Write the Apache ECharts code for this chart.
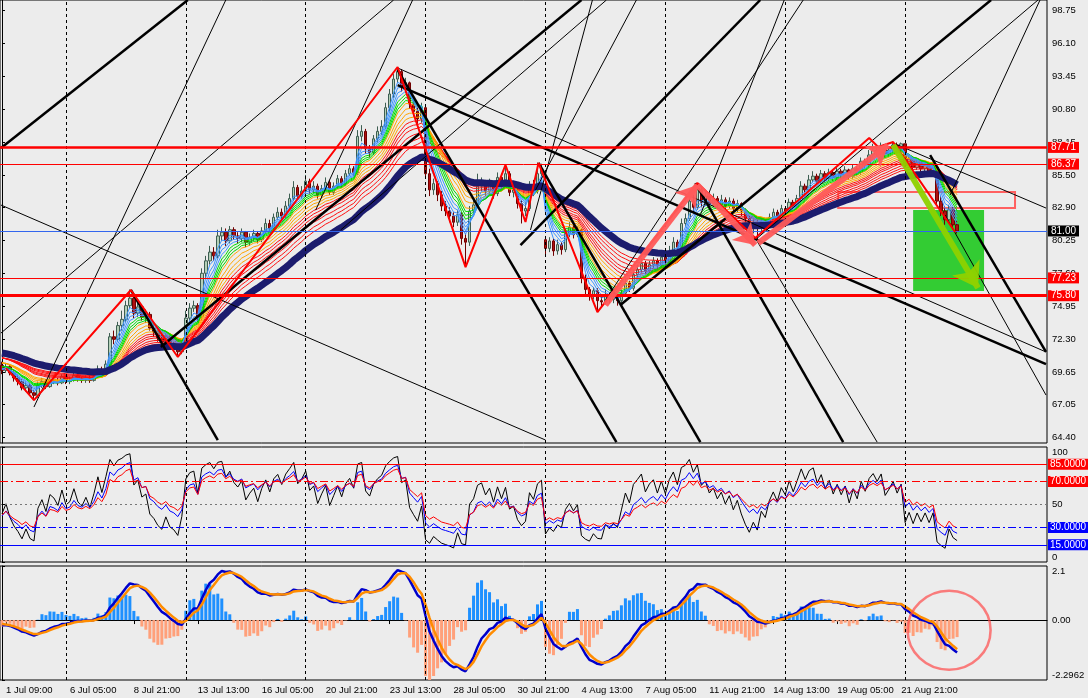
<!DOCTYPE html>
<html><head><meta charset="utf-8">
<script src="https://cdn.jsdelivr.net/npm/echarts@6/dist/echarts.min.js"></script>
<style>html,body{margin:0;padding:0;background:#ececec}#c{width:1088px;height:698px}</style>
</head><body><div id="c"></div>
<script>
// ---------------- data ----------------
const timeLabels = ['1 Jul 09:00','6 Jul 05:00','8 Jul 21:00','13 Jul 13:00','16 Jul 05:00','20 Jul 21:00','23 Jul 13:00','28 Jul 05:00','30 Jul 21:00','4 Aug 13:00','7 Aug 05:00','11 Aug 21:00','14 Aug 13:00','19 Aug 05:00','21 Aug 21:00'];
const firstLabelBar = 1;
const barsPerLabel = 16;
const slotCount = 262;
const priceTicks = [98.75,96.10,93.45,90.80,88.15,85.50,82.90,80.25,77.60,74.95,72.30,69.65,67.05,64.40];
const rsiTicks = [0,50,100];
const macdTicks = [-2.2962,0,2.07];
const macdTickText = ['-2.2962','0.00','2.1'];

const close = [69.8,70.1,69.6,69.2,68.9,68.4,68.6,68.0,67.8,68.6,
68.9,68.5,69.1,69.0,68.8,69.3,68.9,69.0,69.4,69.1,
69.0,69.2,69.0,69.3,69.9,69.6,70.3,72.5,72.3,73.4,
73.9,75.0,75.6,74.4,74.9,74.1,74.3,73.2,72.9,72.4,
72.1,72.5,71.9,71.7,71.3,71.8,74.0,74.8,75.0,74.1,
77.6,78.6,79.3,79.0,80.6,80.9,80.2,81.1,80.6,80.4,
80.9,80.1,80.5,80.8,80.3,81.0,81.6,81.2,82.1,82.5,
82.2,83.0,83.6,84.5,83.8,84.2,85.0,84.3,84.6,83.9,
84.4,84.9,84.1,84.6,85.2,84.8,85.6,86.0,85.7,88.6,
89.0,87.6,87.3,88.4,89.0,89.4,90.9,92.0,93.2,93.8,
92.6,92.9,91.2,90.6,90.0,90.9,85.6,84.3,84.8,83.9,
83.0,82.6,82.2,81.7,82.3,80.4,80.1,82.6,83.1,84.6,
84.9,84.2,84.8,84.0,85.3,84.6,85.6,84.1,84.3,83.2,
82.6,82.8,84.6,84.2,85.6,86.0,79.6,80.2,79.4,79.9,
79.5,80.8,81.3,80.7,81.1,77.2,76.3,75.8,76.2,75.4,
75.3,75.9,75.5,75.7,75.4,76.0,76.8,76.4,77.5,77.9,
78.4,77.8,78.3,78.6,78.2,78.9,78.5,79.4,80.1,79.7,
81.6,82.0,83.4,82.9,84.3,83.3,83.8,83.2,83.6,83.1,
83.5,83.0,83.4,82.8,83.2,82.6,82.0,81.4,81.7,81.2,
81.8,81.5,82.1,82.5,82.2,82.8,82.6,83.3,83.0,83.6,
84.6,84.3,85.1,85.4,85.0,85.6,85.2,85.7,85.3,85.8,
85.5,85.9,85.4,86.0,85.7,86.6,86.3,87.1,87.5,87.3,
87.8,87.2,87.5,87.9,87.6,88.0,86.4,86.8,86.1,86.5,
86.0,86.3,85.8,86.1,83.4,82.6,81.9,82.7,81.5,81.0];

const high = [70.5,70.4,70.3,69.8,69.4,69.1,68.9,68.8,68.2,68.9,
69.2,69.1,69.4,69.3,69.2,69.5,69.4,69.3,69.6,69.5,
69.3,69.4,69.4,69.5,70.2,70.1,70.6,72.8,73.0,73.7,
74.6,75.4,76.3,75.8,75.3,75.1,74.7,74.5,73.5,73.1,
72.7,72.8,72.7,72.1,71.9,72.1,74.6,75.2,75.4,75.2,
78.0,79.0,79.8,79.7,81.1,81.3,81.2,81.4,81.3,80.9,
81.2,81.0,80.8,81.1,81.0,81.3,82.0,81.9,82.4,82.9,
82.8,83.4,84.0,85.0,84.7,84.6,85.5,85.2,85.0,84.8,
84.7,85.3,85.1,84.9,85.5,85.4,85.9,86.3,86.2,89.1,
89.5,89.2,87.9,88.7,89.4,89.9,91.3,92.4,93.6,94.15,
94.0,93.3,93.0,91.6,90.9,91.3,91.1,86.0,85.2,85.0,
84.2,83.4,82.9,82.5,82.7,82.5,80.8,83.0,83.6,85.6,
85.3,85.1,85.2,85.0,85.7,85.6,86.3,85.8,84.7,84.5,
83.5,83.3,85.0,85.1,86.5,86.4,80.6,80.5,80.4,80.3,
80.1,81.2,81.7,81.5,81.4,81.2,77.5,76.5,76.5,76.4,
75.8,76.3,76.1,76.0,75.9,76.3,77.2,77.0,77.9,78.3,
78.8,78.6,78.6,78.9,78.8,79.2,79.1,79.8,80.5,80.3,
82.0,82.4,83.8,83.9,84.85,84.5,84.2,84.0,84.0,83.8,
83.9,83.7,83.7,83.6,83.5,83.3,82.8,82.2,82.0,81.9,
82.1,82.0,82.4,82.8,82.7,83.1,83.0,83.6,83.5,83.9,
85.0,84.8,85.5,85.8,85.6,85.9,85.8,86.0,85.9,86.1,
86.0,86.2,86.0,86.3,86.2,86.9,86.8,87.5,88.0,87.8,
88.1,87.9,87.8,88.15,88.1,88.1,88.0,87.1,86.9,86.8,
86.7,86.6,86.5,86.4,86.2,83.8,83.0,83.1,82.9,81.8];

const low = [69.5,69.6,69.4,68.9,68.6,68.2,68.1,67.8,67.4,67.6,
68.4,68.3,68.4,68.7,68.6,68.7,68.7,68.7,68.9,68.9,
68.8,68.8,68.8,68.9,69.2,69.4,69.5,70.1,71.9,72.1,
73.0,73.7,74.8,74.0,74.1,73.8,73.6,73.0,72.5,72.1,
71.8,71.9,71.6,71.4,70.9,71.1,71.6,73.8,74.5,73.7,
73.8,77.2,78.3,78.6,78.8,80.2,79.8,80.0,80.3,80.0,
80.1,79.7,79.8,80.2,80.0,80.1,80.8,80.9,81.0,81.9,
81.8,82.0,82.8,83.4,83.5,83.6,84.0,84.0,84.0,83.6,
83.7,84.2,83.9,83.9,84.4,84.5,84.6,85.4,85.4,85.5,
88.2,87.2,86.9,87.1,88.1,88.7,89.2,90.6,91.7,92.9,
92.2,92.1,90.8,90.2,89.6,89.7,85.2,83.8,83.9,83.4,
82.6,82.2,81.7,81.3,81.4,79.9,78.1,79.8,82.2,82.9,
84.2,83.8,83.9,83.6,83.8,84.3,84.4,83.8,83.7,82.8,
81.6,82.2,82.6,83.8,84.0,84.9,79.0,79.3,79.0,79.1,
79.1,79.3,80.5,80.4,80.5,76.8,75.9,75.4,75.5,74.5,
74.9,75.1,75.2,75.2,75.0,75.2,75.8,76.1,76.2,77.2,
77.6,77.5,77.6,78.0,77.9,78.0,78.2,78.3,79.1,79.3,
79.5,81.3,81.8,82.5,82.7,82.9,83.0,82.9,82.9,82.8,
82.9,82.7,82.8,82.5,82.5,82.2,81.7,81.0,80.8,80.3,
81.0,81.2,81.3,81.9,81.9,82.0,82.3,82.4,82.7,82.8,
83.4,84.0,84.1,84.9,84.7,84.8,84.9,85.0,85.0,85.1,
85.2,85.3,85.1,85.2,85.4,85.5,86.0,86.1,86.9,87.0,
87.1,86.9,87.0,87.3,87.3,87.4,86.1,86.2,85.8,85.9,
85.7,85.8,85.5,85.5,83.1,82.2,81.5,81.6,81.2,80.8];

// open of each bar is the previous close, except the first bar and gap bars
const firstOpen = 70.2;
const gapOpens = [[136, 80.3]];

// indicator settings (values at the left edge)
const blueMAPeriods = [3,4,5,6];
const greenMAPeriods = [7,8,9];
const orangeMAPeriods = [10,12,14,16];
const redMAPeriods = [18,20,22,25,28,31];
const slowMAPeriod = 40;
const maStart = {blue:69.9, green:70.1, orange:70.4, red:70.8, slow:71.2};
const rsiPeriods = {black:5, blue:10, red:14};
const rsiStart = {black:42, blue:40, red:41};
const macdPeriods = {fast:8, slow:16, signal:3};
const macdHistGain = 5;
const macdStart = {fast:70.2, slow:70.4, signal:-0.15};

// horizontal levels
const priceLevels = [87.71, 86.37, 81.00, 77.23, 75.80];
const rsiLevels = [85, 70, 50, 30, 15];
const gridBars = [16,46,76,106,136,166,196,226];

// drawing objects: [barIndex, price] pairs
const zigzag = [[1,69.99],[8,67.42],[32.25,76.26],[44,70.88],[99,94.17],[116,78.10],[126,86.30],[131,81.72],[134.25,86.46],[149,74.49],[174,84.85],[188.5,80.43],[217,88.47],[219.25,87.74],[223,88.14],[238.5,80.92]];
const thickLines = [
 [-0.25,87.66,46.5,99.55],[32.25,76.26,54,64.21],[39.75,71.68,145,99.55],[99,92.72,261.25,70.31],
 [232.25,87.10,261.25,71.28],[99,93.93,153.75,64.04],[134.25,86.46,174.75,64.04],[173.5,84.85,210.5,64.04],
 [154.75,75.05,247.5,99.55],[129.75,79.87,189.75,99.55]];
const thinLines = [
 [-0.25,83.08,136,64.21],[8,66.86,56,99.55],[-0.25,72.80,98,99.55],[99,94.09,261.25,71.28],
 [223,88.06,261.25,82.84],[236,82.28,261.25,67.82],[188.5,80.43,219,64.04],[84.75,81.08,151.25,99.55],
 [133.5,84.29,158.75,99.55],[174.75,82.28,195.75,99.55],[151,75.45,200.5,99.55],[189,80.43,259.25,99.55],
 [237.25,83.89,259.75,99.55],[78.5,82.68,102.75,99.55],[132.25,81.08,147.75,99.55]];
const salmonArrows = [[151,75.05,174,84.69],[174,84.69,188.5,79.87],[189.25,80.03,221.75,87.9]];
const greenArrow = [223,87.9,244.25,76.42];
const greenBox = [228,82.68,245.75,76.18];
const salmonBox = [209.25,84.13,253.5,82.84];
const macdCircle = [237,-0.39];

// ---------------- indicators ----------------
const open = close.map((c,i)=> i===0 ? firstOpen : close[i-1]);
gapOpens.forEach(([i,v])=>{open[i]=v;});
const candles = close.map((c,i)=>[open[i], c, low[i], high[i]]);

function ema(src, n, seed){
  const a = 2/(n+1); let v = seed;
  return src.map((x,i)=> i===0 ? v : (v = v + a*(x-v)));
}
function rsi(src, n, start){
  let al = 0.25, ag = al*start/(100-start);
  return src.map((x,i)=>{
    if(i>0){ const d = x-src[i-1]; ag=(ag*(n-1)+Math.max(d,0))/n; al=(al*(n-1)+Math.max(-d,0))/n; }
    return +(100*ag/(ag+al)).toFixed(2);
  });
}
const emaF = ema(close, macdPeriods.fast, macdStart.fast);
const emaS = ema(close, macdPeriods.slow, macdStart.slow);
const macd = emaF.map((v,i)=> v - emaS[i]);
const macdSig = ema(macd, macdPeriods.signal, macdStart.signal);
const macdHist = macd.map((v,i)=> macdHistGain*(v - macdSig[i]));

const categories = Array.from({length: slotCount}, (_,i)=> 'bar' + i);
function labelAt(i){
  const k = (i - firstLabelBar) / barsPerLabel;
  return (Number.isInteger(k) && k>=0 && k<timeLabels.length) ? timeLabels[k] : '';
}

// ---------------- option ----------------
const FONT = 'Liberation Sans, Arial, sans-serif';
const series = [];

// background boxes
series.push({type:'line', xAxisIndex:1, yAxisIndex:0, data:[], z:1, silent:true,
  markArea:{silent:true, data:[
    [{coord:[greenBox[0],greenBox[1]], itemStyle:{color:'#33cc33', opacity:1}}, {coord:[greenBox[2],greenBox[3]]}],
    [{coord:[salmonBox[0],salmonBox[1]], itemStyle:{color:'rgba(0,0,0,0)', borderColor:'#ff6060', borderWidth:2}}, {coord:[salmonBox[2],salmonBox[3]]}]
  ]}});

// candles + vertical grid
const levelStyles = [
  {color:'#ff0000', width:2.5, bg:'#ff0000'},
  {color:'#ff0000', width:1, bg:'#ff0000'},
  {color:'#3366ee', width:1, bg:'#000000'},
  {color:'#ff0000', width:1, bg:'#ff0000'},
  {color:'#ff0000', width:3, bg:'#ff0000'}
];
series.push({type:'candlestick', xAxisIndex:0, yAxisIndex:0, data:candles, barWidth:3, z:2,
  itemStyle:{color:'#b4d0b8', color0:'#b01010', borderColor:'#3e5e52', borderColor0:'#700000', borderWidth:1},
  markLine:{silent:true, symbol:['none','none'], animation:false,
    data: gridBars.map(b=>({xAxis:b, lineStyle:{color:'#000', width:1, type:[3,3]}, label:{show:false}}))
  }});
series.push({type:'line', xAxisIndex:1, yAxisIndex:0, data:[], z:3, silent:true,
  markLine:{silent:true, symbol:['none','none'], animation:false,
    data: priceLevels.map((v,k)=>{const s=levelStyles[k]; return {yAxis:v,
      lineStyle:{color:s.color, width:s.width, type:'solid'},
      label:{show:true, position:'end', distance:1, formatter:v.toFixed(2), color:'#fff', backgroundColor:s.bg,
        padding:[1,3,0,3], fontSize:10, fontFamily:FONT}};})
  }});

// rainbow moving averages
function maSeries(periods, startVal, color){
  periods.forEach(p=>{
    series.push({type:'line', xAxisIndex:0, yAxisIndex:0, data:ema(close,p,startVal).map(v=>+v.toFixed(3)),
      symbol:'none', z:3, silent:true, lineStyle:{color:color, width:1}});
  });
}
maSeries(redMAPeriods, maStart.red, '#ff1010');
maSeries(orangeMAPeriods, maStart.orange, '#ffa500');
maSeries(greenMAPeriods, maStart.green, '#00dd00');
maSeries(blueMAPeriods, maStart.blue, '#3d95ff');
series.push({type:'line', xAxisIndex:0, yAxisIndex:0, data:ema(close,slowMAPeriod,maStart.slow).map(v=>+v.toFixed(3)),
  symbol:'none', z:3, silent:true, lineStyle:{color:'#1c1c6e', width:7}});

// trend lines
thickLines.forEach(l=> series.push({type:'line', xAxisIndex:1, yAxisIndex:0, data:[[l[0],l[1]],[l[2],l[3]]],
  symbol:'none', z:4, silent:true, lineStyle:{color:'#000', width:2.5}}));
thinLines.forEach(l=> series.push({type:'line', xAxisIndex:1, yAxisIndex:0, data:[[l[0],l[1]],[l[2],l[3]]],
  symbol:'none', z:4, silent:true, lineStyle:{color:'#000', width:1}}));
// zigzag
series.push({type:'line', xAxisIndex:1, yAxisIndex:0, data:zigzag, symbol:'none', z:5, silent:true,
  lineStyle:{color:'#ff0000', width:2}});
// arrows
series.push({type:'lines', coordinateSystem:'cartesian2d', xAxisIndex:1, yAxisIndex:0, z:6, silent:true,
  symbol:['none','arrow'], symbolSize:20,
  lineStyle:{color:'#ff5a5a', width:6, opacity:0.95},
  data: salmonArrows.map(a=>({coords:[[a[0],a[1]],[a[2],a[3]]]}))});
series.push({type:'lines', coordinateSystem:'cartesian2d', xAxisIndex:1, yAxisIndex:0, z:6, silent:true,
  symbol:['none','arrow'], symbolSize:24,
  lineStyle:{color:'#8fd100', width:6, opacity:0.95},
  data:[{coords:[[greenArrow[0],greenArrow[1]],[greenArrow[2],greenArrow[3]]]}]});

// RSI pane
const rsiStyles = [['#ff0000','solid','#ff0000'],['#ff0000',[8,3,2,3],'#ff0000'],['#777',[2,3],null],['#0000ff',[8,3,2,3],'#0000ff'],['#0000ff','solid','#0000ff']];
series.push({type:'line', xAxisIndex:2, yAxisIndex:1, data:rsi(close,rsiPeriods.black,rsiStart.black), symbol:'none', silent:true, z:3,
  lineStyle:{color:'#000', width:1},
  markLine:{silent:true, symbol:['none','none'], animation:false,
    data: gridBars.map(b=>({xAxis:b, lineStyle:{color:'#000', width:1, type:[3,3]}, label:{show:false}}))
      .concat(rsiLevels.map((v,k)=>{const s=rsiStyles[k]; return {yAxis:v, lineStyle:{color:s[0], width:1.2, type:s[1]},
        label: s[2] ? {show:true, position:'end', distance:1, formatter:v.toFixed(4), color:'#fff', backgroundColor:s[2], padding:[1,2,0,2], fontSize:10, fontFamily:FONT} : {show:false}};}))
  }});
series.push({type:'line', xAxisIndex:2, yAxisIndex:1, data:rsi(close,rsiPeriods.blue,rsiStart.blue), symbol:'none', silent:true, z:3, lineStyle:{color:'#0000ff', width:1}});
series.push({type:'line', xAxisIndex:2, yAxisIndex:1, data:rsi(close,rsiPeriods.red,rsiStart.red), symbol:'none', silent:true, z:3, lineStyle:{color:'#ff0000', width:1}});

// MACD pane
series.push({type:'bar', xAxisIndex:4, yAxisIndex:2, data:macdHist.map(v=>+v.toFixed(3)), barWidth:3, silent:true, z:2,
  itemStyle:{color:(p)=> p.value>=0 ? '#1e90ff' : '#ffa07a'},
  markLine:{silent:true, symbol:['none','none'], animation:false,
    data: gridBars.map(b=>({xAxis:b, lineStyle:{color:'#000', width:1, type:[3,3]}, label:{show:false}}))}});
series.push({type:'line', xAxisIndex:4, yAxisIndex:2, data:macd.map(v=>+v.toFixed(3)), symbol:'none', silent:true, z:3, lineStyle:{color:'#0000cc', width:2.5}});
series.push({type:'line', xAxisIndex:4, yAxisIndex:2, data:macdSig.map(v=>+v.toFixed(3)), symbol:'none', silent:true, z:3, lineStyle:{color:'#ff8c00', width:2.5}});
series.push({type:'scatter', xAxisIndex:4, yAxisIndex:2, data:[macdCircle], symbol:'circle', symbolSize:[83,79], silent:true, z:5,
  itemStyle:{color:'rgba(0,0,0,0)', borderColor:'rgba(255,70,70,0.85)', borderWidth:2.5}});

const hiddenCat = (g)=>({type:'category', gridIndex:g, data:categories, boundaryGap:true, axisLine:{show:false}, axisTick:{show:false}, axisLabel:{show:false}, splitLine:{show:false}});
const hiddenVal = (g)=>({type:'value', gridIndex:g, min:-0.5, max:slotCount-0.5, show:false, splitLine:{show:false}});
const gridBase = {left:-1, right:41, show:true, borderColor:'#000', borderWidth:1, backgroundColor:'rgba(0,0,0,0)'};
const ylab = {color:'#000', fontSize:9.5, fontFamily:FONT, margin:5};

const option = {
  backgroundColor:'#ececec',
  animation:false,
  grid:[Object.assign({top:0, height:443}, gridBase), Object.assign({top:447, height:115}, gridBase), Object.assign({top:566, height:114}, gridBase)],
  xAxis:[hiddenCat(0), hiddenVal(0), hiddenCat(1), hiddenVal(1),
    {type:'category', gridIndex:2, data:categories, boundaryGap:true,
     axisLine:{show:true, lineStyle:{color:'#000'}},
     axisTick:{show:true, alignWithLabel:true, length:4, interval:(i)=> labelAt(i)!=='', lineStyle:{color:'#000'}},
     axisLabel:{show:true, interval:(i)=> labelAt(i)!=='', formatter:(v,i)=>labelAt(i), align:'left', margin:5, color:'#000', fontSize:9.5, fontFamily:FONT},
     splitLine:{show:false}},
    hiddenVal(2)],
  yAxis:[
    {type:'value', gridIndex:0, position:'right', min:63.97, max:99.55, splitLine:{show:false},
     axisLine:{show:true, lineStyle:{color:'#000'}}, axisTick:{show:true, length:3, customValues:priceTicks, lineStyle:{color:'#000'}},
     axisLabel:Object.assign({customValues:priceTicks, formatter:(v)=>v.toFixed(2)}, ylab)},
    {type:'value', gridIndex:1, position:'right', min:0, max:100, splitLine:{show:false},
     axisLine:{show:true, lineStyle:{color:'#000'}}, axisTick:{show:true, length:3, customValues:rsiTicks, lineStyle:{color:'#000'}},
     axisLabel:Object.assign({customValues:rsiTicks, formatter:(v)=>String(v), verticalAlignMinLabel:'bottom', verticalAlignMaxLabel:'top'}, ylab)},
    {type:'value', gridIndex:2, position:'right', min:-2.2962, max:2.07, splitLine:{show:false},
     axisLine:{show:true, lineStyle:{color:'#000'}}, axisTick:{show:true, length:3, customValues:macdTicks, lineStyle:{color:'#000'}},
     axisLabel:Object.assign({customValues:macdTicks, formatter:(v)=>macdTickText[macdTicks.indexOf(v)] || v.toFixed(2), verticalAlignMinLabel:'bottom', verticalAlignMaxLabel:'top'}, ylab)}
  ],
  series: series
};
const chart = echarts.init(document.getElementById('c'), null, {renderer:'canvas'});
chart.setOption(option);
</script></body></html>
